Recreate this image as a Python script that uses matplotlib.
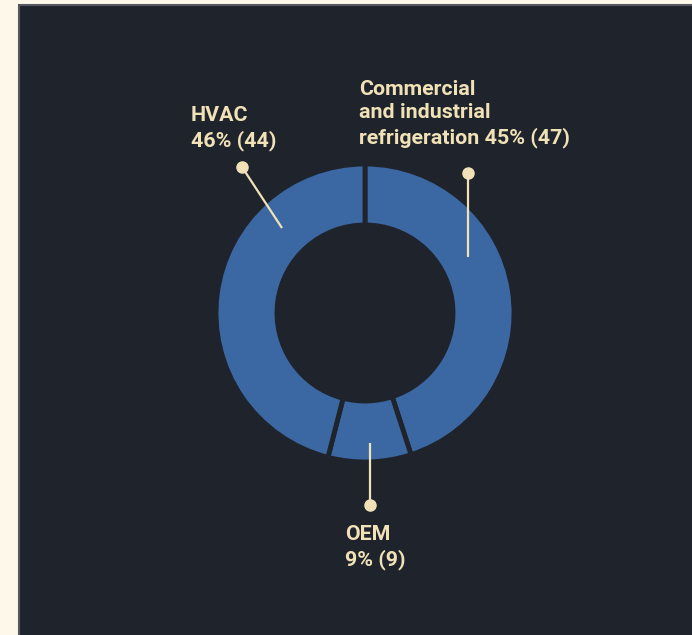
import matplotlib.pyplot as plt
from matplotlib.patches import Rectangle

# segment shares (percent) and counts
labels = ['Commercial\nand industrial\nrefrigeration', 'OEM', 'HVAC']
shares = [45, 9, 46]
counts = [47, 9, 44]

bg = '#fdf8e9'
panel = '#1f232c'
blue = '#3b68a3'
txt = '#f0e2b6'

plt.rcParams['font.family'] = ['Roboto', 'DejaVu Sans']

fig = plt.figure(figsize=(6.92, 6.35), dpi=100, facecolor=bg)
ax = fig.add_axes([0, 0, 1, 1])
ax.set_facecolor(bg)

ax.add_patch(Rectangle((19, -10), 700, 640, facecolor=panel, edgecolor='#55585e', lw=1.5))

cx, cy, r = 365, 322, 149
ax.pie(shares, colors=[blue] * 3, startangle=90, counterclock=False,
       center=(cx, cy), radius=r,
       wedgeprops=dict(width=61, edgecolor=panel, linewidth=3.5))

# leader lines: (dot x, dot y, end x, end y) and baseline of the last label line
leaders = [(468, 462, 468, 378), (370, 130, 370, 192), (242, 468, 282, 407)]
anchors = [(359, 492), (345, 70), (191, 489)]
for lab, s, c, (x0, y0, x1, y1), (tx, ty) in zip(labels, shares, counts, leaders, anchors):
    ax.plot([x0, x1], [y0, y1], color=txt, lw=1.6, solid_capstyle='butt')
    ax.plot(x0, y0, 'o', color=txt, ms=8)
    sep = ' ' if lab.startswith('Comm') else '\n'
    ax.text(tx, ty, f'{lab}{sep}{s}% ({c})',
            color=txt, fontsize=15.4, fontweight='bold', ha='left', va='baseline',
            linespacing=1.3)

ax.set_xlim(0, 692)
ax.set_ylim(0, 635)
ax.set_aspect('auto')
ax.axis('off')

plt.savefig('out.png', dpi=100, facecolor=bg)
